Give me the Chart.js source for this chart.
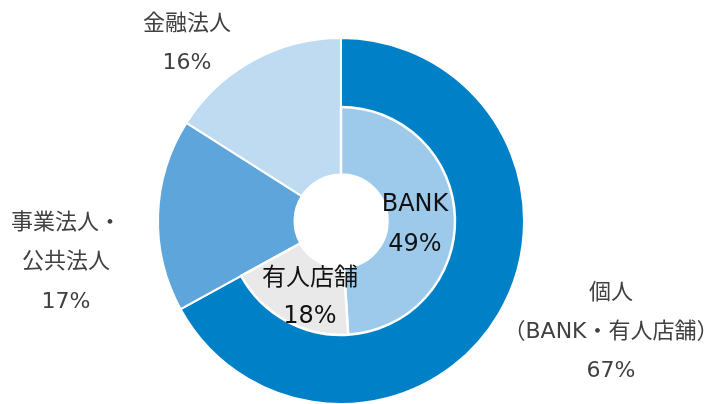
<!DOCTYPE html>
<html>
<head>
<meta charset="utf-8">
<script src="https://cdn.jsdelivr.net/npm/chart.js@4/dist/chart.umd.min.js"></script>
<style>
  html, body { margin: 0; padding: 0; background: #ffffff; }
  #wrap { position: relative; width: 711px; height: 404px; }
  .layer { position: absolute; left: 0; top: 0; width: 711px; height: 404px; }
</style>
</head>
<body>
<div id="wrap">
  <div class="layer"><canvas id="outer"></canvas></div>
  <div class="layer"><canvas id="inner"></canvas></div>
</div>
<script>
// ---- data ----
const outerLabels = ['個人\n（BANK・有人店舗）', '事業法人・\n公共法人', '金融法人'];
const outerValues = [67, 17, 16];
const innerLabels = ['BANK', '有人店舗', ''];
const innerValues = [49, 18, 33];

// ---- styles ----
const outerColors = ['#0080C6', '#5EA5DC', '#BFDBF1'];
const innerColors = ['#9DCAEB', '#E9E9E9', 'rgba(0,0,0,0)'];
const FONT = '"DejaVu Sans", "Noto Sans CJK JP", sans-serif';

// label anchors: offset of first line from chart centre, line spacing
const outerAnchors = [[270, 72, 39], [-275, 2, 39.5], [-154, -197, 39]];
const innerAnchors = [[74, -16, 40], [-31, 58, 38], null];

function labelPlugin(labels, values, anchors, color, size) {
  return {
    id: 'lbl',
    afterDatasetsDraw(chart) {
      const ctx = chart.ctx;
      const meta = chart.getDatasetMeta(0);
      ctx.save();
      ctx.fillStyle = color;
      ctx.font = size + 'px ' + FONT;
      ctx.textAlign = 'center';
      ctx.textBaseline = 'middle';
      meta.data.forEach((arc, i) => {
        const a = anchors[i];
        if (!a) return;
        const lines = labels[i].split('\n').concat([values[i] + '%']);
        lines.forEach((t, k) => {
          ctx.fillText(t, arc.x + a[0], arc.y + a[1] + k * a[2]);
        });
      });
      ctx.restore();
    }
  };
}

const common = {
  responsive: true,
  maintainAspectRatio: false,
  animation: false,
  events: [],
  layout: { padding: { left: 0, right: 29, top: 38, bottom: 0 } },
  plugins: { legend: { display: false }, tooltip: { enabled: false } }
};

new Chart(document.getElementById('outer'), {
  type: 'doughnut',
  data: {
    labels: outerLabels,
    datasets: [{
      data: outerValues,
      backgroundColor: outerColors,
      borderColor: '#ffffff',
      borderWidth: 2
    }]
  },
  options: Object.assign({}, common, { radius: 183, cutout: '25.4%', rotation: 0 }),
  plugins: [labelPlugin(outerLabels, outerValues, outerAnchors, '#404040', 22)]
});

new Chart(document.getElementById('inner'), {
  type: 'doughnut',
  data: {
    labels: innerLabels,
    datasets: [{
      data: innerValues,
      backgroundColor: innerColors,
      borderColor: ['#ffffff', '#ffffff', 'rgba(0,0,0,0)'],
      borderWidth: [2.5, 2.5, 0]
    }]
  },
  options: Object.assign({}, common, { radius: 114, cutout: '40.8%', rotation: 0 }),
  plugins: [labelPlugin(innerLabels, innerValues, innerAnchors, '#111111', 24)]
});
</script>
</body>
</html>
